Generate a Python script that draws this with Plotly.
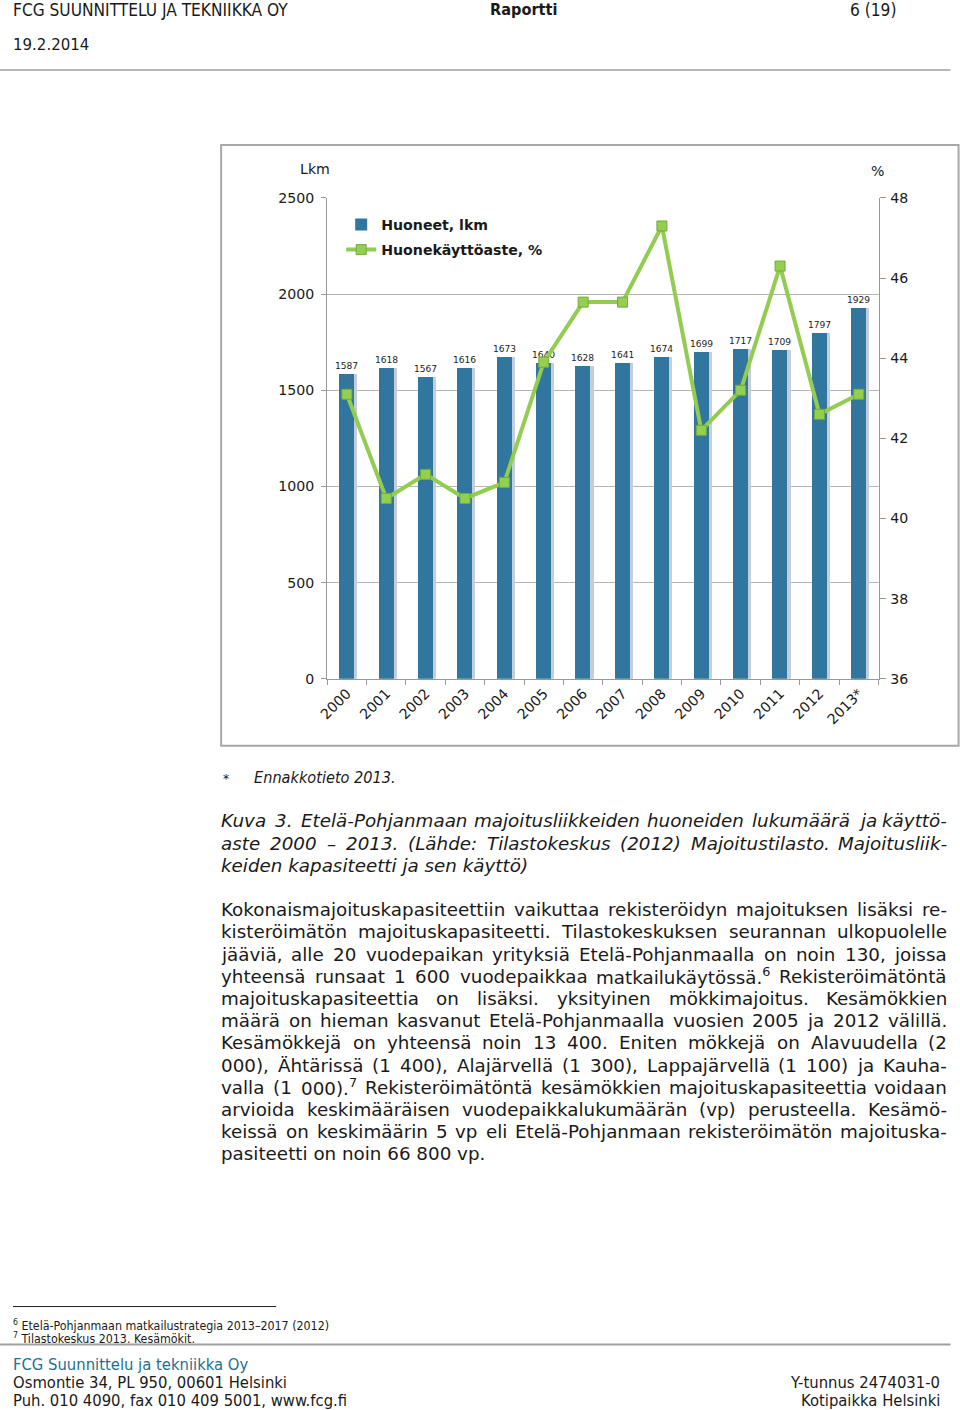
import re
import plotly.graph_objects as go

# ---------------- data ----------------
years = ["2000", "2001", "2002", "2003", "2004", "2005", "2006",
         "2007", "2008", "2009", "2010", "2011", "2012", "2013*"]
rooms = [1587, 1618, 1567, 1616, 1673, 1640, 1628,
         1641, 1674, 1699, 1717, 1709, 1797, 1929]
occupancy = [43.1, 40.5, 41.1, 40.5, 40.9, 43.9, 45.4,
             45.4, 47.3, 42.2, 43.2, 46.3, 42.6, 43.1]

series_names = ["Huoneet, lkm", "Huonekäyttöaste, %"]
left_title = "Lkm"
right_title = "%"

header_left = "FCG SUUNNITTELU JA TEKNIIKKA OY"
header_mid = "Raportti"
header_right = "6 (19)"
header_date = "19.2.2014"

note = "Ennakkotieto 2013."
caption_lines = [
    "Kuva 3. Etelä-Pohjanmaan majoitusliikkeiden huoneiden lukumäärä ja käyttö-",
    "aste 2000 – 2013. (Lähde: Tilastokeskus (2012) Majoitustilasto. Majoitusliik-",
    "keiden kapasiteetti ja sen käyttö)",
]
body_lines = [
    "Kokonaismajoituskapasiteettiin vaikuttaa rekisteröidyn majoituksen lisäksi re-",
    "kisteröimätön majoituskapasiteetti. Tilastokeskuksen seurannan ulkopuolelle",
    "jääviä, alle 20 vuodepaikan yrityksiä Etelä-Pohjanmaalla on noin 130, joissa",
    "yhteensä runsaat 1 600 vuodepaikkaa matkailukäytössä.<sup>6</sup> Rekisteröimätöntä",
    "majoituskapasiteettia on lisäksi. yksityinen mökkimajoitus. Kesämökkien",
    "määrä on hieman kasvanut Etelä-Pohjanmaalla vuosien 2005 ja 2012 välillä.",
    "Kesämökkejä on yhteensä noin 13 400. Eniten mökkejä on Alavuudella (2",
    "000), Ähtärissä (1 400), Alajärvellä (1 300), Lappajärvellä (1 100) ja Kauha-",
    "valla (1 000).<sup>7</sup> Rekisteröimätöntä kesämökkien majoituskapasiteettia voidaan",
    "arvioida keskimääräisen vuodepaikkalukumäärän (vp) perusteella. Kesämö-",
    "keissä on keskimäärin 5 vp eli Etelä-Pohjanmaan rekisteröimätön majoituska-",
    "pasiteetti on noin 66 800 vp.",
]
footnotes = [
    "<sup>6</sup> Etelä-Pohjanmaan matkailustrategia 2013–2017 (2012)",
    "<sup>7</sup> Tilastokeskus 2013. Kesämökit.",
]
footer_left = [
    "Osmontie 34, PL 950, 00601 Helsinki",
    "Puh. 010 4090, fax 010 409 5001, www.fcg.fi",
]
footer_company = "FCG Suunnittelu ja tekniikka Oy"
footer_right = ["Y-tunnus 2474031-0", "Kotipaikka Helsinki"]

# ---------------- layout helpers ----------------
W, H = 960, 1410
# compensation for the page offset / scaling seen in the rendered page
S, BX, BY = 0.989, 10.0, 8.0
def px(x):
    return ((x - BX) / S) / W
def py(y):
    return 1 - ((y - BY) / S) / H
def fs(v):
    return v / S

COND_FONT = "DejaVu Sans Condensed, DejaVu Sans, sans-serif"
BODY_FONT = "DejaVu Sans, Verdana, sans-serif"
CHART_FONT = "DejaVu Sans, Verdana, sans-serif"
TXT = "#1a1a1a"

# approximate DejaVu Sans advance widths (units per 2048 em) for justification
ADV = dict(zip("abcdefghijklmnopqrstuvwxyz",
               [1255, 1300, 1126, 1300, 1260, 721, 1300, 1298, 569, 569, 1186,
                569, 1995, 1298, 1253, 1300, 1300, 842, 1067, 803, 1298, 1212,
                1675, 1212, 1212, 1075]))
ADV.update(zip("ABCDEFGHIJKLMNOPQRSTUVWXYZ",
               [1401, 1405, 1430, 1577, 1294, 1178, 1587, 1540, 604, 604, 1343,
                1141, 1767, 1532, 1612, 1235, 1612, 1423, 1300, 1251, 1499, 1401,
                2025, 1403, 1251, 1403]))
ADV.update({d: 1303 for d in "0123456789"})
ADV.update({" ": 651, ".": 651, ",": 651, "(": 799, ")": 799, "-": 739,
            "–": 1024, ":": 690, "ä": 1255, "ö": 1253, "Ä": 1401, "Ö": 1612})

def word_width(word, size):
    total = 0.0
    for part in re.split(r"(<sup>.*?</sup>)", word):
        if part.startswith("<sup>"):
            inner, f = part[5:-6], 0.7
        else:
            inner, f = part, 1.0
        total += sum(ADV.get(c, 1250) for c in inner) * size * f / 2048
    return total

fig = go.Figure()

# bar shadow
fig.add_trace(go.Bar(
    x=years, y=rooms, width=0.38, offset=-0.11,
    marker=dict(color="#c3cddb", line=dict(width=0)),
    showlegend=False, hoverinfo="skip", yaxis="y",
))
# bars
fig.add_trace(go.Bar(
    x=years, y=rooms, width=0.38, offset=-0.19,
    name=series_names[0], legend="legend",
    marker=dict(color="#31769e", line=dict(width=0)),
    text=[str(v) for v in rooms], textposition="outside",
    constraintext="none",
    textfont=dict(size=fs(9), color="#222", family=CHART_FONT),
    cliponaxis=False, yaxis="y",
))
# line
fig.add_trace(go.Scatter(
    x=years, y=occupancy, mode="lines+markers", name=series_names[1],
    legend="legend2",
    line=dict(color="#92cc50", width=4),
    marker=dict(symbol="square", size=10, color="#92d050",
                line=dict(color="#76a83c", width=1)),
    yaxis="y2",
))

legend_font = dict(size=fs(14), color=TXT, family=CHART_FONT, weight="bold")
fig.update_layout(
    width=W, height=H, autosize=False,
    margin=dict(l=0, r=0, t=0, b=0),
    paper_bgcolor="white", plot_bgcolor="white",
    barmode="overlay", bargap=0, hovermode=False,
    font=dict(family=CHART_FONT, color=TXT),
    xaxis=dict(
        type="category", domain=[px(327), px(878)], range=[-0.5, 13.5],
        tickson="boundaries", ticks="outside", ticklen=5, tickcolor="#999",
        showline=True, linecolor="#999", linewidth=1,
        tickangle=-45, tickfont=dict(size=fs(14), color=TXT, family=CHART_FONT),
        showgrid=False, anchor="y",
    ),
    yaxis=dict(
        domain=[py(679), py(198)], range=[0, 2500], dtick=500,
        showgrid=True, gridcolor="#b5b5b5", gridwidth=1,
        showline=True, linecolor="#999", ticks="outside", ticklen=5,
        tickcolor="#999", tickfont=dict(size=fs(14), color=TXT, family=CHART_FONT),
        ticklabelstandoff=4,
        zeroline=False, anchor="x",
    ),
    yaxis2=dict(
        overlaying="y", side="right", range=[36, 48], dtick=2,
        showgrid=False, showline=True, linecolor="#999", ticks="outside",
        ticklen=6, tickcolor="#999",
        tickfont=dict(size=fs(14), color=TXT, family=CHART_FONT),
        ticklabelstandoff=2,
        zeroline=False, anchor="x",
    ),
    legend=dict(
        x=px(341), y=py(225), xanchor="left", yanchor="middle",
        bgcolor="rgba(0,0,0,0)", font=legend_font, itemwidth=30,
    ),
    legend2=dict(
        x=px(341), y=py(250), xanchor="left", yanchor="middle",
        bgcolor="rgba(0,0,0,0)", font=legend_font, itemwidth=30,
    ),
    showlegend=True,
)

shapes = []
# chart frame
shapes.append(dict(type="rect", xref="paper", yref="paper",
                   x0=px(221), x1=px(958), y0=py(746), y1=py(145),
                   line=dict(color="#a8a8a8", width=2), layer="below"))
# header rule
shapes.append(dict(type="line", xref="paper", yref="paper",
                   x0=px(0), x1=px(950), y0=py(70), y1=py(70),
                   line=dict(color="#a0a0a0", width=1.5)))
# footnote rule
shapes.append(dict(type="line", xref="paper", yref="paper",
                   x0=px(13), x1=px(276), y0=py(1307), y1=py(1307),
                   line=dict(color="#222", width=1)))
# footer rule
shapes.append(dict(type="line", xref="paper", yref="paper",
                   x0=px(0), x1=px(950), y0=py(1345), y1=py(1345),
                   line=dict(color="#a0a0a0", width=2)))
fig.update_layout(shapes=shapes)

ann = []
def text(x, y, s, size, xanchor="left", color=TXT, family=BODY_FONT,
         bold=False, italic=False):
    ann.append(dict(
        x=px(x), y=py(y), xref="paper", yref="paper", text=s,
        showarrow=False, xanchor=xanchor, yanchor="middle",
        font=dict(size=fs(size), color=color, family=family,
                  weight="bold" if bold else "normal",
                  style="italic" if italic else "normal"),
    ))

PAD = 2  # annotation padding around text
def justified(left, right, y, s, size, italic=False):
    words = s.split(" ")
    widths = [word_width(w, size) for w in words]
    if len(words) < 2:
        text(left - PAD, y, s, size, italic=italic)
        return
    gap = ((right - left) - sum(widths)) / (len(words) - 1)
    xcur = left
    for i, w in enumerate(words):
        if i == len(words) - 1:
            text(right + PAD, y, w, size, xanchor="right", italic=italic)
        else:
            text(xcur - PAD, y, w, size, italic=italic)
        xcur += widths[i] + gap

# header
text(11, 10, header_left, 17, family=COND_FONT)
text(523, 10, header_mid, 16, xanchor="center", bold=True, family=COND_FONT)
text(897, 10, header_right, 17, xanchor="right", family=COND_FONT)
text(11, 45, header_date, 16.5, family=COND_FONT)

# axis titles
text(315, 169, left_title, 14, xanchor="center", family=CHART_FONT)
text(877, 171, right_title, 14, xanchor="center", family=CHART_FONT)

# note
text(221, 779, "*", 12, family=CHART_FONT)
text(252, 778, note, 16, italic=True, family=COND_FONT)

BODY_SIZE = 18.1
BLOCK_L, BLOCK_R = 221, 946
# caption
for i, s in enumerate(caption_lines):
    yy = 821 + i * 22.4
    if i < len(caption_lines) - 1:
        justified(BLOCK_L, BLOCK_R, yy, s, BODY_SIZE, italic=True)
    else:
        text(BLOCK_L - PAD, yy, s, BODY_SIZE, italic=True)

# body
for i, s in enumerate(body_lines):
    yy = 910 + i * 22.2
    if i < len(body_lines) - 1:
        justified(BLOCK_L, BLOCK_R, yy, s, BODY_SIZE)
    else:
        text(BLOCK_L - PAD, yy, s, BODY_SIZE)

# footnotes
for i, s in enumerate(footnotes):
    text(11, 1325 + i * 13.5, s, 12.2, family=COND_FONT)

# footer
text(11, 1365, footer_company, 16.3, color="#1f6f8f", family=COND_FONT)
for i, s in enumerate(footer_left):
    text(11, 1383 + i * 17.5, s, 16.3, family=COND_FONT)
for i, s in enumerate(footer_right):
    text(941, 1383 + i * 17.5, s, 16.3, xanchor="right", family=COND_FONT)

fig.update_layout(annotations=ann)

fig.write_html(
    "out.html",
    config=dict(displayModeBar=False),
    post_script="document.body.style.margin='0';document.body.style.padding='0';"
                "document.documentElement.style.overflow='hidden';",
)
